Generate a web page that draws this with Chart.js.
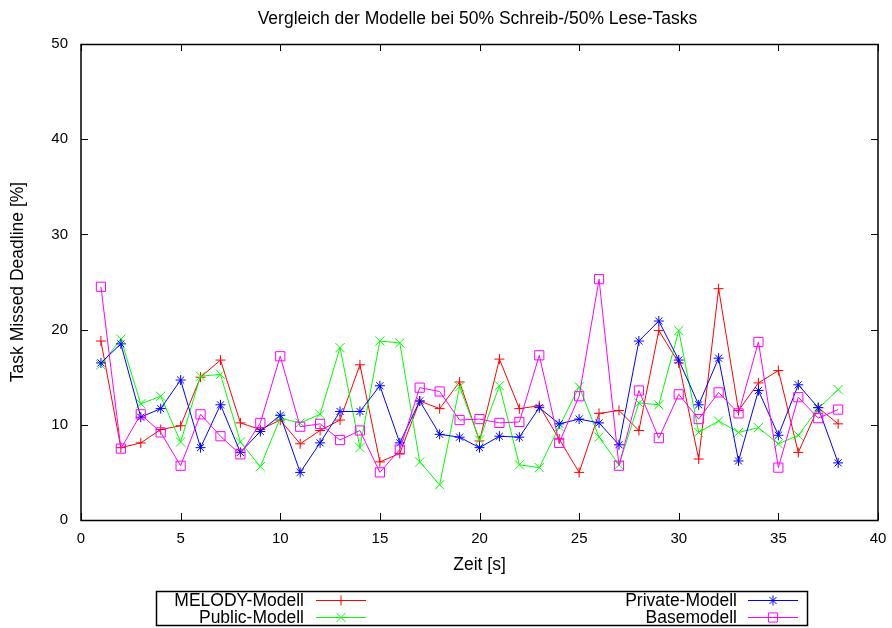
<!DOCTYPE html>
<html>
<head>
<meta charset="utf-8">
<script src="https://cdn.jsdelivr.net/npm/chart.js@4.4.1/dist/chart.umd.min.js"></script>
<style>
  html, body { margin: 0; padding: 0; background: #fff; }
  #wrap { width: 892px; height: 628px; }
</style>
</head>
<body>
<div id="wrap"><canvas id="chart" width="892" height="628"></canvas></div>
<script>
const times = [1, 2, 3, 4, 5, 6, 7, 8, 9, 10, 11, 12, 13, 14, 15, 16, 17, 18, 19,
               20, 21, 22, 23, 24, 25, 26, 27, 28, 29, 30, 31, 32, 33, 34, 35, 36, 37, 38];
const melody = [18.8, 7.6, 8.1, 9.5, 9.9, 15.0, 16.8, 10.2, 9.5, 10.5, 8.0, 9.4, 10.5, 16.3, 6.1, 7.0, 12.5, 11.7, 14.5,
                8.3, 16.9, 11.7, 12.0, 8.5, 5.0, 11.2, 11.5, 9.4, 19.9, 16.5, 6.4, 24.3, 11.5, 14.4, 15.7, 7.1, 11.8, 10.1];
const publicM = [16.3, 19.0, 12.2, 13.0, 8.2, 15.1, 15.3, 8.2, 5.6, 10.7, 10.2, 11.1, 18.1, 7.6, 18.8, 18.6, 6.1, 3.7, 14.0,
                 8.4, 14.1, 5.8, 5.5, 9.8, 14.0, 8.7, 5.8, 12.3, 12.1, 19.9, 9.2, 10.4, 9.2, 9.7, 8.0, 8.9, 11.7, 13.7];
const privateM = [16.5, 18.5, 10.8, 11.7, 14.7, 7.6, 12.1, 7.1, 9.3, 11.0, 5.0, 8.1, 11.4, 11.4, 14.1, 8.1, 12.5, 9.0, 8.7,
                  7.6, 8.8, 8.7, 11.8, 10.1, 10.6, 10.2, 7.9, 18.8, 20.9, 16.8, 12.1, 17.0, 6.2, 13.6, 8.9, 14.2, 11.8, 6.0];
const baseM = [24.5, 7.5, 11.1, 9.2, 5.7, 11.1, 8.8, 6.9, 10.2, 17.2, 9.8, 10.1, 8.4, 9.4, 5.0, 7.4, 13.9, 13.5, 10.5,
               10.6, 10.2, 10.3, 17.3, 8.1, 13.0, 25.3, 5.7, 13.6, 8.6, 13.2, 10.6, 13.4, 11.2, 18.7, 5.5, 12.9, 10.7, 11.6];
const seriesNames = ['MELODY-Modell', 'Public-Modell', 'Private-Modell', 'Basemodell'];
const xTicks = [0, 5, 10, 15, 20, 25, 30, 35, 40];
const yTicks = [0, 10, 20, 30, 40, 50];
const chartTitle = 'Vergleich der Modelle bei 50% Schreib-/50% Lese-Tasks';

const FONT = 'Liberation Sans, Arial, Helvetica, sans-serif';
const TEXT_SIZE = 17.5;

const styles = [
  { color: '#ff0000', pointStyle: 'cross', radius: 5, order: 4 },
  { color: '#00ff00', pointStyle: 'crossRot', radius: 6.5, order: 3 },
  { color: '#0000ff', pointStyle: 'star', radius: 5, order: 2 },
  { color: '#ff00ff', pointStyle: 'rect', radius: 6.5, order: 1 },
];

const toPoints = vals => vals.map((v, i) => ({ x: times[i], y: v }));
const values = [melody, publicM, privateM, baseM];

const datasets = values.map((vals, i) => ({
  label: seriesNames[i],
  data: toPoints(vals),
  borderColor: styles[i].color,
  backgroundColor: 'rgba(0,0,0,0)',
  borderWidth: 1,
  pointStyle: styles[i].pointStyle,
  pointRadius: styles[i].radius,
  pointHoverRadius: styles[i].radius,
  pointBorderColor: styles[i].color,
  pointBackgroundColor: 'rgba(0,0,0,0)',
  pointBorderWidth: 1,
  tension: 0,
  order: styles[i].order,
}));

// gnuplot-like frame with inward ticks on all four sides, title centred over the plot
const framePlugin = {
  id: 'frame',
  afterDatasetsDraw(chart) {
    const { ctx, chartArea: a, scales: { x, y } } = chart;
    const len = 7;
    ctx.save();
    ctx.strokeStyle = '#000';
    ctx.lineWidth = 1;
    ctx.beginPath();
    xTicks.forEach(v => {
      const px = Math.round(x.getPixelForValue(v)) + 0.5;
      ctx.moveTo(px, a.bottom); ctx.lineTo(px, a.bottom - len);
      ctx.moveTo(px, a.top); ctx.lineTo(px, a.top + len);
    });
    yTicks.forEach(v => {
      const py = Math.round(y.getPixelForValue(v)) + 0.5;
      ctx.moveTo(a.left, py); ctx.lineTo(a.left + len, py);
      ctx.moveTo(a.right, py); ctx.lineTo(a.right - len, py);
    });
    ctx.stroke();
    ctx.lineWidth = 1.5;
    ctx.strokeRect(a.left, a.top + 0.5, a.right - a.left, a.bottom - a.top);

    ctx.fillStyle = '#000';
    ctx.font = TEXT_SIZE + 'px ' + FONT;
    ctx.textAlign = 'center';
    ctx.textBaseline = 'middle';
    ctx.fillText(chartTitle, (a.left + a.right) / 2 - 2, 19);
    ctx.restore();
  }
};

// two column legend box under the plot
const legendPlugin = {
  id: 'boxLegend',
  afterDraw(chart) {
    const { ctx } = chart;
    ctx.save();
    ctx.lineWidth = 1.5;
    ctx.strokeStyle = '#000';
    ctx.strokeRect(156.5, 591.5, 651, 34);
    ctx.font = TEXT_SIZE + 'px ' + FONT;
    ctx.textAlign = 'right';
    ctx.textBaseline = 'middle';
    const cols = [{ textRight: 304, x0: 316, x1: 366 }, { textRight: 737, x0: 748, x1: 798 }];
    const rows = [600.5, 617.5];
    const slots = [[0, 0], [0, 1], [1, 0], [1, 1]];
    chart.data.datasets.forEach((ds, i) => {
      const c = cols[slots[i][0]];
      const ry = rows[slots[i][1]];
      ctx.fillStyle = '#000';
      ctx.fillText(ds.label, c.textRight, ry + 1);
      ctx.strokeStyle = ds.borderColor;
      ctx.lineWidth = 1;
      ctx.beginPath();
      ctx.moveTo(c.x0, ry); ctx.lineTo(c.x1, ry);
      ctx.stroke();
      ctx.fillStyle = 'rgba(0,0,0,0)';
      Chart.helpers.drawPoint(ctx, {
        pointStyle: ds.pointStyle, radius: ds.pointRadius, borderWidth: 1, rotation: 0
      }, (c.x0 + c.x1) / 2, ry);
    });
    ctx.restore();
  }
};

new Chart(document.getElementById('chart'), {
  type: 'line',
  data: { datasets },
  plugins: [framePlugin, legendPlugin],
  options: {
    responsive: false,
    animation: false,
    events: [],
    layout: { padding: { left: 0, right: 14, top: 44, bottom: 0 } },
    plugins: {
      legend: { display: false },
      tooltip: { enabled: false },
      title: { display: false },
    },
    scales: {
      x: {
        type: 'linear',
        min: 0, max: 40,
        grid: { display: false, drawTicks: false },
        border: { display: false },
        afterBuildTicks: s => { s.ticks = xTicks.map(v => ({ value: v })); },
        afterFit: s => { s.height = 108; s.paddingRight = 0; s.paddingLeft = 0; },
        ticks: { color: '#000', font: { family: FONT, size: 15 }, padding: 10, maxRotation: 0 },
        title: {
          display: true, text: 'Zeit [s]', color: '#000',
          font: { family: FONT, size: TEXT_SIZE }, padding: { top: 0, bottom: 52.5 },
        },
      },
      y: {
        min: 0, max: 50,
        grid: { display: false, drawTicks: false },
        border: { display: false },
        afterBuildTicks: s => { s.ticks = yTicks.map(v => ({ value: v })); },
        afterFit: s => { s.width = 81; s.paddingTop = 0; s.paddingBottom = 0; },
        ticks: { color: '#000', font: { family: FONT, size: 15 }, padding: 13 },
        title: {
          display: true, text: 'Task Missed Deadline [%]', color: '#000',
          font: { family: FONT, size: TEXT_SIZE }, padding: { top: 7.5, bottom: 0 },
        },
      },
    },
  },
});
</script>
</body>
</html>
